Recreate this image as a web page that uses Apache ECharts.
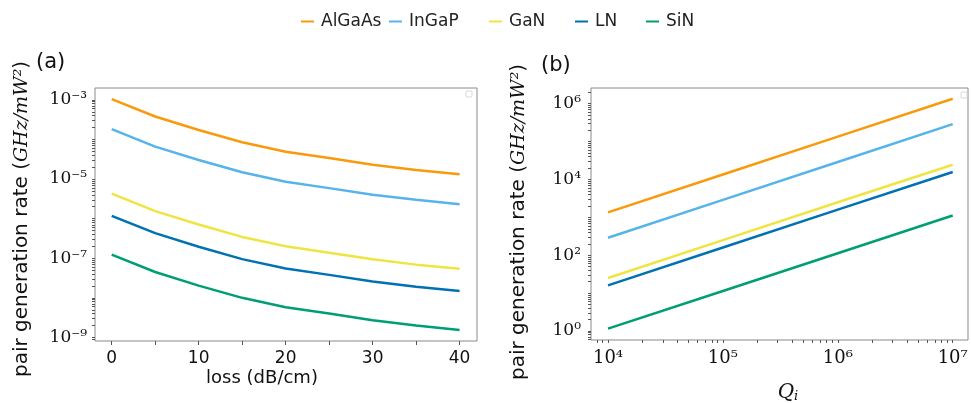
<!DOCTYPE html>
<html>
<head>
<meta charset="utf-8">
<script src="https://cdn.jsdelivr.net/npm/echarts@6/dist/echarts.min.js"></script>
<style>html,body{margin:0;padding:0;background:#fff}#main{width:971px;height:403px}</style>
</head>
<body>
<div id="main"></div>
<script>
var names = ['AlGaAs', 'InGaP', 'GaN', 'LN', 'SiN'];
var colors = ['#f99a0c', '#56b4e9', '#f0e442', '#0072b2', '#009e73'];

// (a) rate vs loss (dB/cm)
var loss = [0, 5, 10, 15, 20, 25, 30, 35, 40];
var lossAlGaAs = [1.05e-3, 3.8e-4, 1.74e-4, 8.5e-5, 4.9e-5, 3.4e-5, 2.3e-5, 1.7e-5, 1.32e-5];
var lossInGaP = [1.83e-4, 6.6e-5, 3.04e-5, 1.48e-5, 8.6e-6, 5.9e-6, 4.0e-6, 3.0e-6, 2.3e-6];
var lossGaN = [4.3e-6, 1.55e-6, 7.1e-7, 3.46e-7, 2.0e-7, 1.38e-7, 9.4e-8, 6.9e-8, 5.4e-8];
var lossLN = [1.18e-6, 4.3e-7, 1.95e-7, 9.5e-8, 5.5e-8, 3.8e-8, 2.6e-8, 1.9e-8, 1.48e-8];
var lossSiN = [1.23e-7, 4.5e-8, 2.04e-8, 1.0e-8, 5.8e-9, 4.0e-9, 2.7e-9, 2.0e-9, 1.55e-9];

// (b) rate vs Qi
var qi = [1e4, 1e5, 1e6, 1e7];
var qAlGaAs = [1.35e3, 1.35e4, 1.35e5, 1.35e6];
var qInGaP = [2.9e2, 2.9e3, 2.9e4, 2.9e5];
var qGaN = [25, 250, 2.5e3, 2.45e4];
var qLN = [16, 160, 1.6e3, 1.57e4];
var qSiN = [1.15, 11.4, 113, 1.12e3];

// ticks / labels
var lossTicks = [0, 5, 10, 15, 20, 25, 30, 35, 40];
var lossLabels = [0, 10, 20, 30, 40];
var rateLabelsA = [1e-9, 1e-7, 1e-5, 1e-3];
var rateLabelsB = [1, 1e2, 1e4, 1e6];
var qiTicks = [1e4, 1e5, 1e6, 1e7];

// decade + 2..9 sub-ticks, like matplotlib's log locator
function logTicks(d0, d1) {
  var out = [];
  for (var d = d0; d <= d1; d++) {
    for (var m = 1; m <= 9; m++) out.push(m * Math.pow(10, d));
  }
  return out;
}

var SUP = {'-': '\u207b', '0': '\u2070', '1': '\u00b9', '2': '\u00b2', '3': '\u00b3', '4': '\u2074',
  '5': '\u2075', '6': '\u2076', '7': '\u2077', '8': '\u2078', '9': '\u2079'};
function powLabel(v) {
  var e = String(Math.round(Math.log10(v)));
  return '10' + e.split('').map(function (c) { return SUP[c]; }).join('');
}

var sans = 'DejaVu Sans';
var serif = 'DejaVu Serif';
var tickColor = '#555';
var frame = '#8a8a8a';

var yminA = Math.pow(10, -9.09), ymaxA = Math.pow(10, -2.70);
var yminB = Math.pow(10, -0.238), ymaxB = Math.pow(10, 6.415);
var xminB = Math.pow(10, 3.852), xmaxB = Math.pow(10, 7.133);

function pairs(xs, ys) {
  return xs.map(function (x, i) { return [x, ys[i]]; });
}

var lossSets = [lossAlGaAs, lossInGaP, lossGaN, lossLN, lossSiN];
var qSets = [qAlGaAs, qInGaP, qGaN, qLN, qSiN];

var series = [];
names.forEach(function (n, i) {
  series.push({
    name: n, type: 'line', xAxisIndex: 0, yAxisIndex: 0, symbol: 'none',
    lineStyle: {width: 2.5, color: colors[i]}, itemStyle: {color: colors[i]},
    data: pairs(loss, lossSets[i])
  });
});
names.forEach(function (n, i) {
  series.push({
    name: n, type: 'line', xAxisIndex: 1, yAxisIndex: 1, symbol: 'none',
    lineStyle: {width: 2.5, color: colors[i]}, itemStyle: {color: colors[i]},
    data: pairs(qi, qSets[i])
  });
});

// one legend per entry, matplotlib spacing is uneven
var legendLeft = [301, 389, 489, 575, 646];
var legends = names.map(function (n, i) {
  return {
    data: [n], left: legendLeft[i], top: 13, padding: 0,
    icon: 'rect', itemWidth: 13, itemHeight: 2,
    textStyle: {fontFamily: sans, fontSize: 17, color: '#222', padding: [0, 0, 0, 2]}
  };
});

var yName = {
  text: '{t|pair generation rate (}{m|GHz/mW\u00b2}{t|)}',
  align: 'center', verticalAlign: 'middle',
  rich: {
    t: {fontFamily: sans, fontSize: 20, fill: '#111'},
    m: {fontFamily: serif, fontStyle: 'italic', fontSize: 19, fill: '#111'}
  }
};
var noLine = {show: false, onZero: false};

var myChart = echarts.init(document.getElementById('main'));
var option = {
  animation: false,
  backgroundColor: '#fff',
  legend: legends,
  grid: [
    {left: 95, top: 88, width: 382, height: 253, show: true, borderColor: frame, borderWidth: 1},
    {left: 591, top: 88, width: 377, height: 252, show: true, borderColor: frame, borderWidth: 1}
  ],
  xAxis: [
    {
      gridIndex: 0, type: 'value', min: -1.92, max: 42, position: 'bottom',
      axisLine: noLine, splitLine: {show: false},
      axisTick: {customValues: lossTicks, length: 4, lineStyle: {color: tickColor}},
      axisLabel: {customValues: lossLabels, margin: 9, fontFamily: sans, fontSize: 17, color: '#111'}
    },
    {
      gridIndex: 1, type: 'log', min: xminB, max: xmaxB, position: 'bottom',
      axisLine: noLine, splitLine: {show: false},
      axisTick: {customValues: logTicks(3, 6).concat([1e7]), length: 3, lineStyle: {color: tickColor}},
      axisLabel: {customValues: qiTicks, formatter: powLabel, margin: 9, fontFamily: serif, fontSize: 18, color: '#111'}
    }
  ],
  yAxis: [
    {
      gridIndex: 0, type: 'log', min: yminA, max: ymaxA, position: 'left',
      axisLine: noLine, splitLine: {show: false},
      axisTick: {customValues: logTicks(-10, -3), length: 3, lineStyle: {color: tickColor}},
      axisLabel: {customValues: rateLabelsA, formatter: powLabel, margin: 8, fontFamily: serif, fontSize: 17, color: '#111'}
    },
    {
      gridIndex: 1, type: 'log', min: yminB, max: ymaxB, position: 'left',
      axisLine: noLine, splitLine: {show: false},
      axisTick: {customValues: logTicks(-1, 6), length: 3, lineStyle: {color: tickColor}},
      axisLabel: {customValues: rateLabelsB, formatter: powLabel, margin: 10, fontFamily: serif, fontSize: 17, color: '#111'}
    }
  ],
  graphic: [
    {type: 'text', x: 36, y: 52, style: {text: '(a)', fontFamily: sans, fontSize: 21, fill: '#111'}},
    {type: 'text', x: 541, y: 55, style: {text: '(b)', fontFamily: sans, fontSize: 21, fill: '#111'}},
    {type: 'text', x: 22, y: 219, rotation: Math.PI / 2, style: yName},
    {type: 'text', x: 519, y: 222, rotation: Math.PI / 2, style: yName},
    {
      type: 'text', x: 262, y: 378,
      style: {text: 'loss (dB/cm)', fontFamily: sans, fontSize: 18, fill: '#111', align: 'center', verticalAlign: 'middle'}
    },
    {
      type: 'text', x: 788, y: 393,
      style: {
        text: '{q|Q}{i|i}', align: 'center', verticalAlign: 'middle',
        rich: {
          q: {fontFamily: serif, fontStyle: 'italic', fontSize: 20, fill: '#111'},
          i: {fontFamily: serif, fontStyle: 'italic', fontSize: 13, fill: '#111', padding: [8, 0, 0, 0]}
        }
      }
    },
    {type: 'rect', shape: {x: 466, y: 91, width: 6, height: 6, r: 1}, style: {fill: '#fff', stroke: '#d8d8d8', lineWidth: 1}},
    {type: 'rect', shape: {x: 961, y: 92, width: 6, height: 6, r: 1}, style: {fill: '#fff', stroke: '#d8d8d8', lineWidth: 1}}
  ],
  series: series
};
myChart.setOption(option);
</script>
</body>
</html>
